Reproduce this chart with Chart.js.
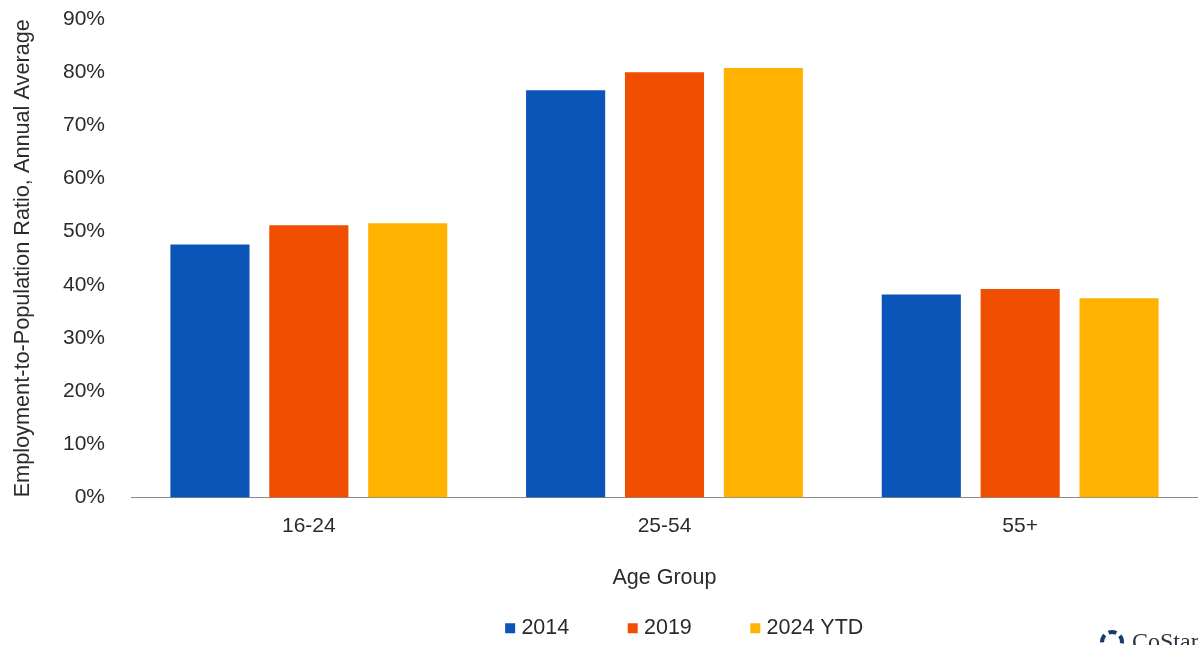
<!DOCTYPE html>
<html>
<head>
<meta charset="utf-8">
<script src="https://cdn.jsdelivr.net/npm/chart.js@4/dist/chart.umd.min.js"></script>
<style>
html,body{margin:0;padding:0;background:#fff;overflow:hidden}
canvas{display:block}
</style>
</head>
<body>
<canvas id="c" width="1198" height="645"></canvas>
<script>
const ageGroups = ['16-24', '25-54', '55+'];
const ratio2014 = [47.6, 76.6, 38.2];
const ratio2019 = [51.2, 80.0, 39.2];
const ratio2024 = [51.6, 80.8, 37.5];
const seriesNames = ['2014', '2019', '2024 YTD'];
const seriesColors = ['#0b54b8', '#f04e00', '#ffb300'];
const xTitle = 'Age Group';
const yTitle = 'Employment-to-Population Ratio, Annual Average';
const brandName = 'CoStar';

const FONT = '"Liberation Sans", Arial, sans-serif';
const INK = '#2b2b2b';

// Legend sits right of the page centre, under the plot's middle
const legendOffset = {
  id: 'legendOffset',
  afterLayout(chart) {
    chart.legend.left += 174;
  }
};

// Small brand mark in the lower right corner
const brandMark = {
  id: 'brandMark',
  afterDraw(chart) {
    const ctx = chart.ctx;
    const cx = 1112, cy = 642, r = 10;
    ctx.save();
    ctx.strokeStyle = '#1d3b66';
    ctx.lineWidth = 4;
    for (let i = 0; i < 5; i++) {
      const a = -Math.PI / 2 + i * 2 * Math.PI / 5 - 0.35;
      ctx.beginPath();
      ctx.arc(cx, cy, r, a, a + 0.8);
      ctx.stroke();
    }
    ctx.fillStyle = '#2a3340';
    ctx.font = '24px "Liberation Serif", serif';
    ctx.textBaseline = 'alphabetic';
    ctx.fillText(brandName, 1132, 649);
    ctx.restore();
  }
};

new Chart(document.getElementById('c'), {
  type: 'bar',
  data: {
    labels: ageGroups,
    datasets: [ratio2014, ratio2019, ratio2024].map((d, i) => ({
      label: seriesNames[i],
      data: d,
      backgroundColor: seriesColors[i],
      borderWidth: 0,
      pointStyle: 'rect',
      barPercentage: 0.8,
      categoryPercentage: 0.834
    }))
  },
  options: {
    responsive: false,
    animation: false,
    layout: { padding: { top: 19, left: 0, right: -1, bottom: -4 } },
    scales: {
      x: {
        grid: { display: false, drawTicks: false },
        border: { display: true, color: '#8a8a8a', width: 1 },
        ticks: { color: INK, font: { family: FONT, size: 21 }, padding: 16, maxRotation: 0 },
        title: { display: true, text: xTitle, color: INK, font: { family: FONT, size: 21.5 }, padding: { top: 0, bottom: -36 } },
        afterFit(s) { s.height = 57; }
      },
      y: {
        min: 0,
        max: 90,
        grid: { display: false, drawTicks: false },
        border: { display: false },
        ticks: { stepSize: 10, color: INK, font: { family: FONT, size: 21 }, padding: 26, callback: v => v + '%' },
        title: { display: true, text: yTitle, color: INK, font: { family: FONT, size: 21.7 }, padding: { top: 10, bottom: 0 } },
        afterFit(s) { s.width = 131; s.paddingTop = 0; s.paddingBottom = 0; }
      }
    },
    plugins: {
      tooltip: { enabled: false },
      legend: {
        position: 'bottom',
        labels: {
          color: INK,
          font: { family: FONT, size: 21.5 },
          usePointStyle: true,
          boxWidth: 1,
          boxHeight: 10,
          padding: 63
        }
      }
    }
  },
  plugins: [legendOffset, brandMark]
});
</script>
</body>
</html>
